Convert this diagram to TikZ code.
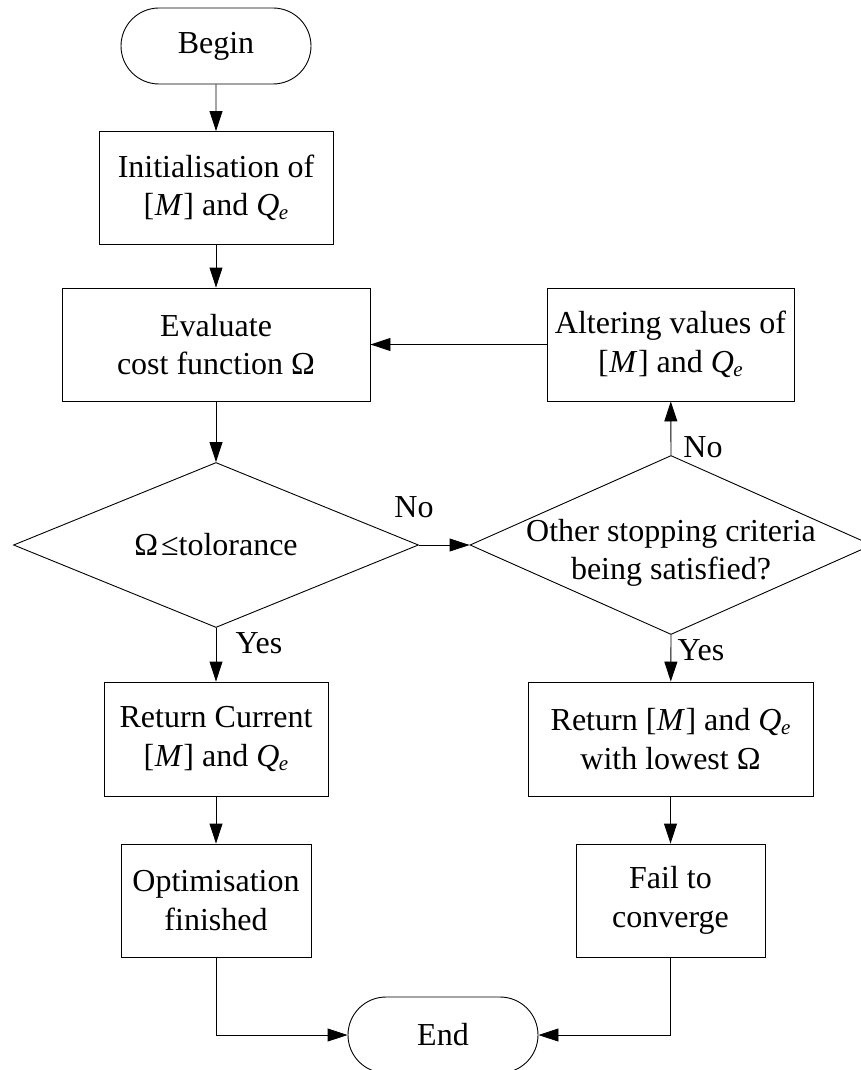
\documentclass[tikz,border=0pt]{standalone}
\usepackage{fontspec}
\setmainfont{Liberation Serif}
\usetikzlibrary{arrows.meta,shapes.geometric,shapes.misc}
\newcommand{\Qsub}{\textit{Q}\kern-0.5pt\raisebox{-4pt}{\fontsize{21}{21}\selectfont\textit{e}}}
\newcommand{\Mbr}{[\kern0.5pt\textit{M}\kern0.5pt]}
\begin{document}
\begin{tikzpicture}[x=1pt,y=-1pt,
  every node/.style={font=\fontsize{32}{38.5}\selectfont, align=center, inner sep=0pt},
  box/.style={draw, rectangle, line width=0.9pt, minimum height=113},
  pill/.style={draw, rounded rectangle, line width=0.9pt, minimum width=190, minimum height=76},
  dec/.style={draw, diamond, line width=0.9pt, inner sep=0pt},
  conn/.style={-{Triangle[length=20pt,width=13pt]}, line width=0.9pt},
]
\clip (0,0) rectangle (861,1070);
\node[pill] (begin) at (216,46) {Begin};
\node[box, minimum width=234] (init) at (216,188) {Initialisation of\\\Mbr{} and \Qsub};
\node[box, minimum width=308] (eval) at (216,344.5) {Evaluate\\cost function Ω};
\node[dec, minimum width=405, minimum height=165] (d1) at (216,545) {};
\node at (216,545) {Ω\kern3pt≤tolorance};
\node[box, minimum width=247] (alt) at (670.5,344.5) {Altering values of\\\Mbr{} and \Qsub};
\node[dec, minimum width=402, minimum height=179] (d2) at (671,545) {};
\node at (671,553) {Other stopping criteria\\being satisfied?};
\node[box, minimum width=224, minimum height=114] (rc) at (216,739) {Return Current\\\Mbr{} and \Qsub};
\node[box, minimum width=285, minimum height=114] (rm) at (670.5,739) {Return \Mbr{} and \Qsub\\with lowest Ω};
\node[box, minimum width=190] (opt) at (216,900.5) {Optimisation\\finished};
\node[box, minimum width=189] (fail) at (670.5,900.5) {Fail to\\converge};
\node[pill] (end) at (443,1035) {End};

\draw[conn] (begin) -- (init);
\draw[conn] (init) -- (eval);
\draw[conn] (eval) -- (d1.north);
\draw[conn] (d1.south) -- (rc);
\draw[conn] (d1.east) -- (d2.west);
\draw[conn] (d2.north) -- (alt);
\draw[conn] (alt) -- (eval);
\draw[conn] (d2.south) -- (rm);
\draw[conn] (rc) -- (opt);
\draw[conn] (rm) -- (fail);
\draw[conn] (opt.south) |- (end.west);
\draw[conn] (fail.south) |- (end.east);

\node (no1) at (414,507) {No};
\node (yes1) at (259,643) {Yes};
\node (no2) at (703,447) {No};
\node (yes2) at (701,650) {Yes};
\end{tikzpicture}
\end{document}
